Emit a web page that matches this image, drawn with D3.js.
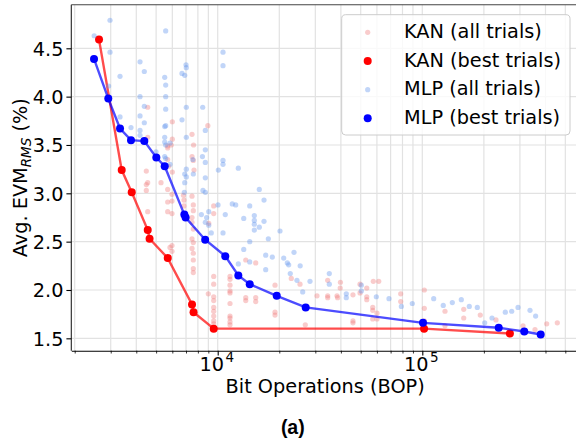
<!DOCTYPE html>
<html><head><meta charset="utf-8">
<script src="https://cdn.jsdelivr.net/npm/d3@7"></script>
<style>body{margin:0;background:#fff}svg{display:block}</style>
</head><body><svg id="c" width="576" height="444"></svg>
<script>
// ---- data ----
const kanAllBop = [4549,6000,8950,4549,6000,5696,5930,5696,7490,7620,7490,5696,7599,6000,4477,7660,5760,
 4549,4477,4477,5284,5696,5979,5696,5979,4549,5696,5979,6800,7490,6840,6840,7599,7599,7490,7490,7599,9560,9560,9040,
 7490,7599,7490,7599,7599,7599,7599,5846,5979,5979,9560,9560,8996,9560,9560,9560,9560,9560,9560,9560,
 11485,11485,11485,11485,11485,11485,11485,11485,11485,11485,
 13710,15340,13710,13710,15340,15340,19060,22890,25250,19060,19060,26800,30570,34480,34480,34480,38290,38550,39800,39700,
 45830,45830,45830,49620,49620,53520,53520,53520,57620,61240,57240,57240,57240,60060,60060,78430,78430,
 102300,102300,102300,129100,129100,159400,159400,192000,229200,310600,355500,405500,456900];
const kanAllEvm = [3.89,3.74,3.70,3.58,3.56,3.49,3.50,3.47,3.61,3.50,3.38,3.35,3.34,3.22,3.23,3.24,3.28,
 3.11,3.09,3.03,3.11,3.04,2.99,2.91,2.92,2.81,2.81,2.79,2.98,2.97,2.93,2.87,2.88,2.82,2.75,2.70,2.63,2.87,2.79,2.69,
 2.53,2.49,2.43,2.38,2.31,2.22,2.18,2.44,2.46,2.40,2.14,2.06,1.96,1.93,1.89,1.82,1.78,1.73,1.68,1.65,
 2.14,2.11,2.05,1.99,1.97,1.86,1.73,1.71,1.67,1.64,
 2.31,2.28,1.92,1.89,1.92,1.88,2.05,2.12,2.06,1.77,1.74,1.64,1.94,2.10,1.94,1.92,1.94,1.92,2.08,2.02,
 1.95,1.68,1.66,2.06,1.97,1.93,1.90,2.02,2.09,2.09,1.82,1.79,1.70,1.70,1.76,1.96,1.88,
 2.00,1.81,1.68,1.78,1.63,1.80,1.71,1.74,1.69,1.63,1.59,1.65,1.66];

const kanBestBop = [2630,3395,3800,4550,4645,5700,7490,7620,9560,102000,268000];
const kanBestEvm = [4.59,3.24,3.01,2.62,2.53,2.33,1.85,1.77,1.60,1.60,1.55];

const mlpAllBop = [2976,2490,5569,2976,10615,10615,4172,4378,3331,5508,5569,6691,6900,7000,7022,4172,4378,5569,5569,7022,8447,
 3331,3769,4172,4378,4172,4172,5508,5569,6691,7022,8698,5508,5508,5569,5846,5508,5569,5846,8420,8698,8698,7560,
 10615,10615,10070,7022,6900,7599,7022,8698,12610,4994,2930,
 6900,8470,8698,6870,10035,11780,12245,8320,8830,9040,10890,8698,9040,9300,10615,
 15970,14340,16840,13405,15100,15100,15100,15100,16840,15970,20160,17680,14340,13405,17165,18490,21020,23600,21890,22230,
 25300,14340,12610,17165,22630,24400,28250,26030,35110,35110,42510,42510,50350,50350,59610,68740,79000,
 89350,113700,126600,140200,155100,169700,185700,201800,219100,254500,273500,293700,336000,358000];
const mlpAllEvm = [4.79,4.63,4.68,4.46,4.46,4.32,4.36,4.26,4.21,4.20,4.12,4.24,4.22,4.33,4.30,4.00,3.90,4.00,3.87,3.89,3.89,
 3.79,3.68,3.80,3.73,3.65,3.60,3.69,3.70,3.76,3.58,3.65,3.58,3.53,3.50,3.52,3.38,3.36,3.30,3.38,3.45,3.32,3.35,
 3.34,3.30,3.24,3.25,3.20,3.20,3.17,3.16,3.26,3.43,4.11,
 3.11,3.03,3.01,3.01,2.88,2.89,2.88,2.78,2.75,2.81,2.78,2.70,2.67,2.59,2.59,
 3.04,2.87,2.93,2.74,2.77,2.72,2.68,2.62,2.71,2.65,2.61,2.53,2.50,2.42,2.36,2.34,2.33,2.39,2.28,2.26,
 2.25,2.29,2.27,2.21,2.17,2.10,2.09,1.98,2.17,2.06,1.96,1.92,2.05,1.99,1.93,1.91,1.83,
 1.86,1.91,1.84,1.87,1.90,1.83,1.82,1.66,1.71,1.77,1.78,1.82,1.79,1.73];

const mlpBestBop = [2486,2919,3331,3769,4378,5011,5508,6870,6970,8685,10890,12610,14340,19430,26920,100800,236300,315000,379000];
const mlpBestEvm = [4.39,3.98,3.67,3.55,3.54,3.37,3.28,2.78,2.75,2.52,2.35,2.15,2.06,1.94,1.82,1.66,1.61,1.57,1.54];

const yTicks = [1.5, 2.0, 2.5, 3.0, 3.5, 4.0, 4.5];
const xMajorTicks = [1e4, 1e5];
const xMajorExp = ["4", "5"];
const xMinorTicks = [2e3,3e3,4e3,5e3,6e3,7e3,8e3,9e3,2e4,3e4,4e4,5e4,6e4,7e4,8e4,9e4,2e5,3e5,4e5,5e5];
const legendLabels = ["KAN (all trials)", "KAN (best trials)", "MLP (all trials)", "MLP (best trials)"];
const xLabel = "Bit Operations (BOP)";
const panelLabel = "(a)";

// ---- layout ----
const L = 71.3, R = 579, T = 4.7, B = 350.7;
const FONT = "DejaVu Sans";
const FS = 19.3;
const rAll = 2.6, rBest = 4.0;

const svg = d3.select("#c");
const x = d3.scaleLog().domain([1925, 583300]).range([L, R]);
const y = d3.scaleLinear().domain([1.372, 4.951]).range([B, T]);

const zip = (a, b) => a.map((v, i) => [v, b[i]]);
const kanAll = zip(kanAllBop, kanAllEvm), kanBest = zip(kanBestBop, kanBestEvm);
const mlpAll = zip(mlpAllBop, mlpAllEvm), mlpBest = zip(mlpBestBop, mlpBestEvm);

const gridC = "#e2e2e2";
const grid = svg.append("g");
grid.selectAll("line.vx").data(xMajorTicks.concat(xMinorTicks)).join("line")
  .attr("x1", d => x(d)).attr("x2", d => x(d)).attr("y1", T).attr("y2", B)
  .attr("stroke", gridC).attr("stroke-width", 1.2);
grid.selectAll("line.hy").data(yTicks).join("line")
  .attr("x1", L).attr("x2", R).attr("y1", d => y(d)).attr("y2", d => y(d))
  .attr("stroke", gridC).attr("stroke-width", 1.2);

const plot = svg.append("g");
const line = d3.line().x(d => x(d[0])).y(d => y(d[1]));

plot.append("g").selectAll("circle").data(kanAll).join("circle")
  .attr("cx", d => x(d[0])).attr("cy", d => y(d[1])).attr("r", rAll)
  .attr("fill", "#f08080").attr("fill-opacity", 0.4);
plot.append("path").datum(kanBest).attr("d", line).attr("fill", "none")
  .attr("stroke", "#ff0000").attr("stroke-opacity", 0.7).attr("stroke-width", 2.4);
plot.append("g").selectAll("circle").data(kanBest).join("circle")
  .attr("cx", d => x(d[0])).attr("cy", d => y(d[1])).attr("r", rBest).attr("fill", "#ff0000");
plot.append("g").selectAll("circle").data(mlpAll).join("circle")
  .attr("cx", d => x(d[0])).attr("cy", d => y(d[1])).attr("r", rAll)
  .attr("fill", "#6495ed").attr("fill-opacity", 0.4);
plot.append("path").datum(mlpBest).attr("d", line).attr("fill", "none")
  .attr("stroke", "#0000ff").attr("stroke-opacity", 0.7).attr("stroke-width", 2.4);
plot.append("g").selectAll("circle").data(mlpBest).join("circle")
  .attr("cx", d => x(d[0])).attr("cy", d => y(d[1])).attr("r", rBest).attr("fill", "#0000ff");

svg.append("line").attr("x1", L).attr("x2", L).attr("y1", T).attr("y2", B).attr("stroke", "#222").attr("stroke-width", 1.1);
svg.append("line").attr("x1", L).attr("x2", R).attr("y1", T).attr("y2", T).attr("stroke", "#444").attr("stroke-width", 1.1);

const yAx = svg.append("g").attr("transform", `translate(${L},0)`)
  .call(d3.axisLeft(y).tickValues(yTicks).tickFormat(d3.format(".1f")).tickSize(4.9).tickPadding(3));
yAx.select(".domain").remove();
yAx.selectAll("text").attr("font-family", FONT).attr("font-size", FS).attr("fill", "#000").attr("dy", "0.36em");
yAx.selectAll("line").attr("stroke", "#000").attr("stroke-width", 1.1);

const xAx = svg.append("g").attr("transform", `translate(0,${B})`)
  .call(d3.axisBottom(x).tickValues(xMajorTicks).tickFormat("").tickSize(4.9).tickSizeOuter(0));
xAx.select(".domain").attr("stroke", "#000").attr("stroke-width", 1.1);
xAx.selectAll("line").attr("stroke", "#000").attr("stroke-width", 1.1);
const xMin = svg.append("g").attr("transform", `translate(0,${B})`)
  .call(d3.axisBottom(x).tickValues(xMinorTicks).tickFormat("").tickSize(2.8));
xMin.select(".domain").remove();
xMin.selectAll("line").attr("stroke", "#000").attr("stroke-width", 0.8);

xMajorTicks.forEach((v, i) => {
  const t = svg.append("text").attr("x", x(v) - 1).attr("y", 370.7)
    .attr("font-family", FONT).attr("font-size", FS).attr("text-anchor", "middle").attr("fill", "#000");
  t.append("tspan").text("10");
  t.append("tspan").attr("dy", -8.5).attr("dx", 1.5).attr("font-size", 13.5).text(xMajorExp[i]);
});

svg.append("text").attr("x", (L + R) / 2).attr("y", 393)
  .attr("font-family", FONT).attr("font-size", FS).attr("text-anchor", "middle").text(xLabel);

const yl = svg.append("text").attr("transform", `translate(27,${(T + B) / 2}) rotate(-90)`)
  .attr("font-family", FONT).attr("font-size", FS).attr("text-anchor", "middle");
yl.append("tspan").text("Avg. EVM");
yl.append("tspan").attr("font-size", 13.5).attr("font-style", "italic").attr("dy", 4).text("RMS");
yl.append("tspan").attr("dy", -4).text(" (%)");

svg.append("text").attr("x", 292.8).attr("y", 434.2)
  .attr("font-family", "Liberation Sans").attr("font-weight", "bold").attr("font-size", 19.5)
  .attr("text-anchor", "middle").text(panelLabel);

const lg = svg.append("g");
lg.append("rect").attr("x", 341.7).attr("y", 14.7).attr("width", 228.3).attr("height", 120.3).attr("rx", 4)
  .attr("fill", "#fff").attr("fill-opacity", 0.8).attr("stroke", "#cccccc").attr("stroke-width", 1);
const legSty = [
  {c: "#f08080", o: 0.4, r: rAll},
  {c: "#ff0000", o: 1, r: rBest},
  {c: "#6495ed", o: 0.4, r: rAll},
  {c: "#0000ff", o: 1, r: rBest}
];
const legY = d3.scaleLinear().domain([0, 3]).range([32.3, 118.3]);
legendLabels.forEach((lab, i) => {
  lg.append("circle").attr("cx", 367.7).attr("cy", legY(i)).attr("r", legSty[i].r)
    .attr("fill", legSty[i].c).attr("fill-opacity", legSty[i].o);
  lg.append("text").attr("x", 404).attr("y", legY(i) + 5.8)
    .attr("font-family", FONT).attr("font-size", FS).attr("fill", "#000").text(lab);
});
</script></body></html>
